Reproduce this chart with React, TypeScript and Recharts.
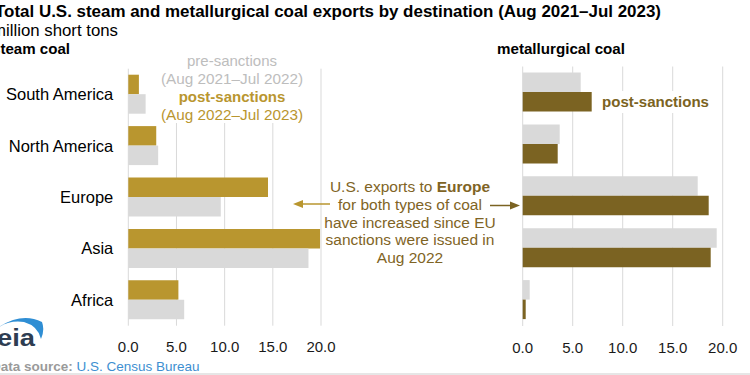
import { BarChart, Bar, XAxis, YAxis, CartesianGrid } from "recharts";

const regions = ["South America", "North America", "Europe", "Asia", "Africa"];
// million short tons, Aug 2021–Jul 2022 (pre) vs Aug 2022–Jul 2023 (post)
const steamPre = [1.8, 3.1, 9.6, 18.7, 5.8];
const steamPost = [1.1, 2.9, 14.5, 19.9, 5.2];
const metPre = [5.8, 3.7, 17.5, 19.4, 0.7];
const metPost = [6.9, 3.5, 18.6, 18.8, 0.3];
const xTicks = [0, 5, 10, 15, 20];

const GOLD = "#b9962f";
const BROWN = "#7b6322";
const GREY = "#d9d9d9";
const TEXT_BROWN = "#7f6425";
const FONT = "'Liberation Sans', Arial, sans-serif";

const steamData = regions.map((r, i) => ({ region: r, pre: steamPre[i], post: steamPost[i] }));
const metData = regions.map((r, i) => ({ region: r, pre: metPre[i], post: metPost[i] }));

const tickStyle = { fill: "#1a1a1a", fontSize: 15, fontFamily: FONT };

function Overlay() {
  return (
    <svg width={750} height={375} style={{ position: "absolute", left: 0, top: 0, pointerEvents: "none" }} fontFamily={FONT}>
      {/* header */}
      <text x={-5} y={17} fontSize={16} fontWeight="bold" fill="#000" textLength={666} lengthAdjust="spacingAndGlyphs">
        Total U.S. steam and metallurgical coal exports by destination (Aug 2021–Jul 2023)
      </text>
      <text x={-8} y={36} fontSize={16} fill="#000" textLength={126} lengthAdjust="spacingAndGlyphs">million short tons</text>
      <text x={-8} y={54} fontSize={15} fontWeight="bold" fill="#000" textLength={78} lengthAdjust="spacingAndGlyphs">steam coal</text>
      <text x={497} y={54} fontSize={15} fontWeight="bold" fill="#000" textLength={128} lengthAdjust="spacingAndGlyphs">metallurgical coal</text>

      {/* left legend */}
      <rect x={157} y={56} width={150} height={67} fill="#fff" />
      <g textAnchor="middle" fontSize={15}>
        <text x={232} y={66} fill="#bdbdbd">pre-sanctions</text>
        <text x={232} y={84} fill="#bdbdbd" textLength={142} lengthAdjust="spacingAndGlyphs">(Aug 2021–Jul 2022)</text>
        <text x={232} y={102} fill={GOLD} fontWeight="bold">post-sanctions</text>
        <text x={232} y={119.5} fill={GOLD} textLength={142} lengthAdjust="spacingAndGlyphs">(Aug 2022–Jul 2023)</text>
      </g>

      {/* right legend */}
      <rect x={597} y={91} width={116} height={22} fill="#fff" />
      <text x={602} y={107} fontSize={15} fontWeight="bold" fill={BROWN} textLength={107} lengthAdjust="spacingAndGlyphs">post-sanctions</text>

      {/* annotation */}
      <g textAnchor="middle" fontSize={15.5} fill={TEXT_BROWN}>
        <text x={410} y={192}>U.S. exports to <tspan fontWeight="bold">Europe</tspan></text>
        <text x={410} y={210}>for both types of coal</text>
        <text x={410} y={227.5}>have increased since EU</text>
        <text x={410} y={245}>sanctions were issued in</text>
        <text x={410} y={263}>Aug 2022</text>
      </g>
      <line x1={300} y1={204} x2={330} y2={204} stroke={GOLD} strokeWidth={1.5} />
      <polygon points="293,204 303,200 303,208" fill={GOLD} />
      <line x1={490} y1={205.5} x2={512} y2={205.5} stroke={BROWN} strokeWidth={1.5} />
      <polygon points="520,205.5 510,201.5 510,209.5" fill={BROWN} />

      {/* eia logo */}
      <path d="M -1 327 Q 22 312 42 322 Q 45 330 41 339 Q 38 326 24 322 Q 10 320 -1 327 Z" fill="#2f8ed4" />
      <text x={-3} y={346} fontSize={23} fontWeight="bold" fill="#2e3d52" textLength={38} lengthAdjust="spacingAndGlyphs">eia</text>

      {/* source */}
      <text x={-9} y={371} fontSize={13.5}>
        <tspan fill="#9a9a9a" fontWeight="bold">Data source: </tspan>
        <tspan fill="#3d8fd1">U.S. Census Bureau</tspan>
      </text>
      <rect x={0} y={373} width={750} height={2} fill="#e6e6e6" />
    </svg>
  );
}

export default function App() {
  return (
    <div style={{ position: "absolute", left: 0, top: 0, width: 750, height: 375, background: "#fff", overflow: "hidden" }}>
      <div style={{ position: "absolute", left: 0, top: 0 }}>
        <BarChart
          width={345}
          height={375}
          data={steamData}
          layout="vertical"
          barGap={0}
          margin={{ top: 68.7, right: 24, bottom: 19.3, left: 0 }}
        >
          <CartesianGrid horizontal={false} stroke={GREY} />
          <XAxis
            type="number"
            domain={[0, 20]}
            ticks={xTicks}
            height={30}
            axisLine={false}
            tickLine={false}
            tickSize={0}
            tickMargin={16}
            tick={tickStyle}
            tickFormatter={(v: number) => v.toFixed(1)}
          />
          <YAxis
            type="category"
            dataKey="region"
            width={128.3}
            axisLine={false}
            tickLine={false}
            tickSize={0}
            tickMargin={15}
            tick={{ fill: "#000", fontSize: 16.5, fontFamily: FONT }}
          />
          <Bar dataKey="post" fill={GOLD} barSize={19.5} isAnimationActive={false} />
          <Bar dataKey="pre" fill={GREY} barSize={19.5} isAnimationActive={false} />
        </BarChart>
      </div>
      <div style={{ position: "absolute", left: 480, top: 0 }}>
        <BarChart
          width={270}
          height={375}
          data={metData}
          layout="vertical"
          barGap={0}
          margin={{ top: 66.5, right: 27.3, bottom: 19, left: 42.7 }}
        >
          <CartesianGrid horizontal={false} stroke={GREY} />
          <XAxis
            type="number"
            domain={[0, 20]}
            ticks={xTicks}
            height={30}
            axisLine={false}
            tickLine={false}
            tickSize={0}
            tickMargin={16.5}
            tick={tickStyle}
            tickFormatter={(v: number) => v.toFixed(1)}
          />
          <YAxis type="category" dataKey="region" hide width={0} />
          <Bar dataKey="pre" fill={GREY} barSize={19.5} isAnimationActive={false} />
          <Bar dataKey="post" fill={BROWN} barSize={19.5} isAnimationActive={false} />
        </BarChart>
      </div>
      <Overlay />
    </div>
  );
}
